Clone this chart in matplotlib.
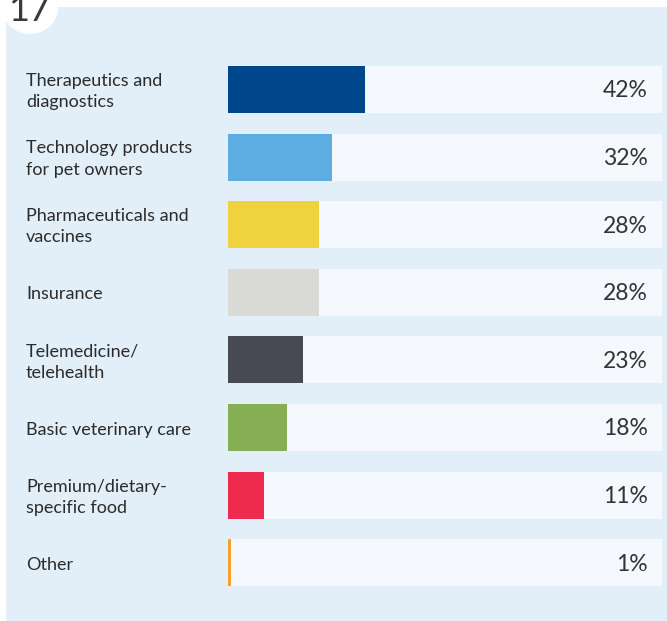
import matplotlib.pyplot as plt
from matplotlib.patches import Rectangle, Circle
from matplotlib.transforms import blended_transform_factory

labels = ["Therapeutics and\ndiagnostics", "Technology products\nfor pet owners",
          "Pharmaceuticals and\nvaccines", "Insurance", "Telemedicine/\ntelehealth",
          "Basic veterinary care", "Premium/dietary-\nspecific food", "Other"]
values = [42, 32, 28, 28, 23, 18, 11, 1]
colors = ["#00468b", "#5dade2", "#f0d23f", "#d9d9d6", "#474a52", "#86ae52", "#ef2b50", "#f7a12a"]
track_max = 133
page_number = "17"

plt.rcParams['font.family'] = ['Lato', 'DejaVu Sans']

W, H = 667, 621
fig = plt.figure(figsize=(W / 100, H / 100), dpi=100)
fig.patch.set_facecolor("white")

# panel background + page number bubble
fig.patches.append(Rectangle((6 / W, 0), 1, 1 - 7 / H, transform=fig.transFigure,
                             facecolor="#e2eef8", edgecolor="none", zorder=0))
fig.patches.append(Circle((30 / W, 1 - 8 / H), 28 / W, transform=fig.transFigure,
                          facecolor="white", edgecolor="none", zorder=1))
fig.text(29 / W, 1 - 21 / H, page_number, fontsize=26, color="#3a3a3a",
         ha="center", va="baseline", zorder=2)

top_px, bot_px = 55.6, 596.6
ax = fig.add_axes([228 / W, 1 - bot_px / H, (662 - 228) / W, (bot_px - top_px) / H])
ax.set_zorder(3)
ax.patch.set_alpha(0)
y = list(range(len(values)))
ax.barh(y, [track_max] * len(values), height=0.695, color="#f5f9fd", zorder=1)
ax.barh(y, values, height=0.695, color=colors, zorder=2)
ax.set_xlim(0, track_max)
ax.set_ylim(len(values) - 0.5, -0.5)
ax.axis("off")

tr = blended_transform_factory(fig.transFigure, ax.transData)
for i, (lab, v) in enumerate(zip(labels, values)):
    ax.text(26 / W, i + 0.03, lab, transform=tr, ha="left", va="center", fontsize=13,
            color="#2b2b2b", linespacing=1.4)
    ax.text(648 / W, i + 0.02, f"{v}%", transform=tr, ha="right", va="center",
            fontsize=16.5, color="#333333")

fig.savefig("out.png", dpi=100)
